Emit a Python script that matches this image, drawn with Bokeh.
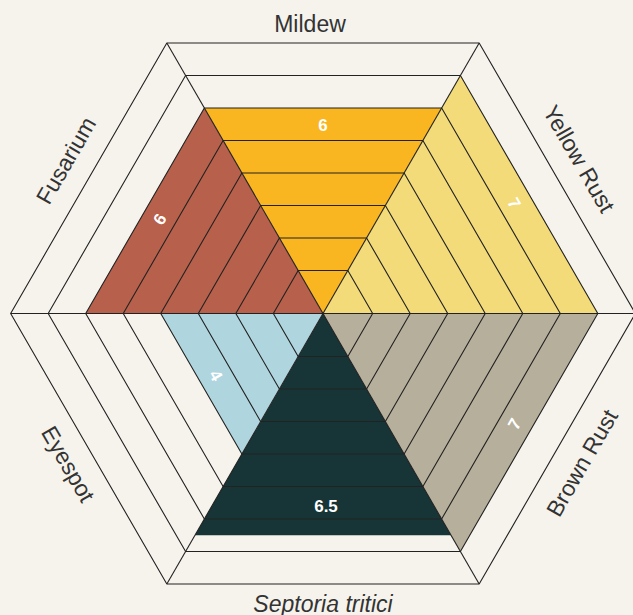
import math
from bokeh.plotting import figure
from bokeh.models import ColumnDataSource, Range1d, GlobalInlineStyleSheet
from bokeh.core.properties import value
from bokeh.embed import file_html
from bokeh.resources import INLINE

# ---------------- data ----------------
categories = ["Mildew", "Yellow Rust", "Brown Rust", "Septoria tritici", "Eyespot", "Fusarium"]
scores = [6, 7, 7, 6.5, 4, 6]
colors = ["#F9B620", "#F2DB78", "#B6AF9C", "#173436", "#AFD5DF", "#B7604B"]
levels = [1, 2, 3, 4, 5, 6, 7, 8]
value_labels = ["6", "7", "7", "6.5", "4", "6"]

# ---------------- layout ----------------
W, H = 633, 615
CX, CY = 322.5, 313.0          # centre of the hexagon in page pixels
H0, STEP = 10.5, 32.5           # apothem of level 0 and per-level step
BG = "#F6F3ED"
LINE = "#222222"
LABEL_DEPTH_TB = 290            # top / bottom category labels
LABEL_DEPTH_SIDE = 299          # slanted category labels
VALUE_INSET = 17
VALUE_NUDGE = {"Septoria tritici": (-3, 12)}   # (tangential px, extra inset px)
CAT_NUDGE = {"Mildew": -13, "Yellow Rust": 6, "Fusarium": -4, "Eyespot": 3}
CAT_DEPTH_ADJ = {"Eyespot": -3}

COS30 = math.cos(math.radians(30))


def depth(v):
    return H0 + STEP * v


def polar(rho, ang):
    a = math.radians(ang)
    return rho * math.cos(a), rho * math.sin(a)


def apothem_pt(h, ang):
    return polar(h / COS30, ang)


def text_angle(theta):
    t = theta - 90
    while t <= -90:
        t += 180
    while t > 90:
        t -= 180
    return math.radians(t)


thetas = [90 - 60 * i for i in range(len(categories))]

# ---------------- figure ----------------
p = figure(width=W, height=H, x_range=Range1d(-CX, W - CX), y_range=Range1d(CY - H, CY),
           output_backend="svg", toolbar_location=None, min_border=0)
p.axis.visible = False
p.grid.visible = False
p.outline_line_color = None
p.background_fill_color = BG
p.border_fill_color = BG
p.stylesheets = [GlobalInlineStyleSheet(css="html, body {margin:0; padding:0; background:%s; overflow:hidden;}" % BG)]

# sector fills
fx, fy = [], []
for th, v in zip(thetas, scores):
    d = depth(v)
    x1, y1 = apothem_pt(d, th - 30)
    x2, y2 = apothem_pt(d, th + 30)
    fx.append([0, x1, x2])
    fy.append([0, y1, y2])
p.patches(xs="xs", ys="ys", fill_color="color", line_color=None,
          source=ColumnDataSource(dict(xs=fx, ys=fy, color=colors)))

# level rings
rx, ry = [], []
for lv in levels:
    pts = [apothem_pt(depth(lv), a) for a in range(0, 361, 60)]
    rx.append([q[0] for q in pts])
    ry.append([q[1] for q in pts])
p.multi_line(xs=rx, ys=ry, line_color=LINE, line_width=1.1)

# spokes
sx, sy = [], []
for a in range(0, 360, 60):
    ex, ey = apothem_pt(depth(levels[-1]), a)
    sx.append([0, ex])
    sy.append([0, ey])
p.multi_line(xs=sx, ys=sy, line_color=LINE, line_width=1.1)

# value labels
vx, vy, va = [], [], []
for cat, th, v in zip(categories, thetas, scores):
    tang, extra = VALUE_NUDGE.get(cat, (0, 0))
    d = depth(v) - VALUE_INSET - extra
    x, y = polar(d, th)
    t = math.radians(th - 90)
    x += tang * math.cos(t)
    y += tang * math.sin(t)
    vx.append(x)
    vy.append(y)
    va.append(text_angle(th))
p.text(x="x", y="y", text="t", angle="a", source=ColumnDataSource(dict(x=vx, y=vy, t=value_labels, a=va)),
       text_color="white", text_font=value("Liberation Sans"), text_font_style="bold",
       text_font_size="17px", text_align="center", text_baseline="middle")

# category labels
cn = dict(x=[], y=[], t=[], a=[])
ci = dict(x=[], y=[], t=[], a=[])
for cat, th in zip(categories, thetas):
    dep = LABEL_DEPTH_TB if th in (90, -90) else LABEL_DEPTH_SIDE
    dep += CAT_DEPTH_ADJ.get(cat, 0)
    x, y = polar(dep, th)
    # tangential (counter-clockwise) nudge
    t = math.radians(th + 90)
    n = CAT_NUDGE.get(cat, 0)
    if th in (90, -90):
        x += n
    else:
        x += n * math.cos(t)
        y += n * math.sin(t)
    tgt = ci if cat == "Septoria tritici" else cn
    tgt["x"].append(x)
    tgt["y"].append(y)
    tgt["t"].append(cat)
    tgt["a"].append(text_angle(th))
for src, style in ((cn, "normal"), (ci, "italic")):
    p.text(x="x", y="y", text="t", angle="a", source=ColumnDataSource(src),
           text_color="#333333", text_font=value("Liberation Sans"), text_font_style=style,
           text_font_size="23px", text_align="center", text_baseline="middle")

open("out.html", "w").write(file_html(p, INLINE))
